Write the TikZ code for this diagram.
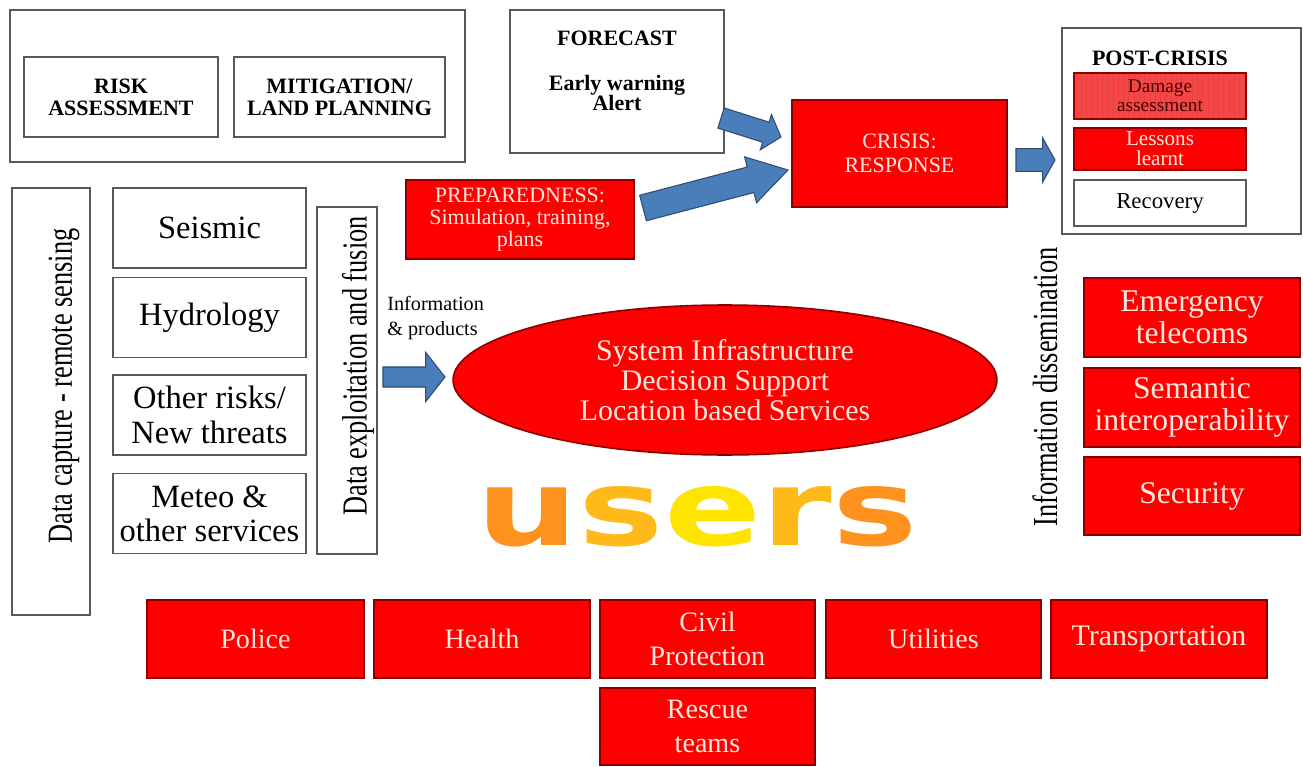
\documentclass[tikz,border=0pt]{standalone}
\usepackage{fontspec}
\setmainfont{Liberation Serif}
\newfontfamily\usersfont{DejaVu Sans}
\usetikzlibrary{calc,shapes.geometric,patterns}

\definecolor{boxred}{RGB}{255,0,0}
\definecolor{boxredline}{RGB}{140,0,0}
\definecolor{damagered}{RGB}{242,72,72}
\definecolor{redtext}{RGB}{255,232,222}
\definecolor{arrowblue}{RGB}{74,126,187}
\definecolor{arrowline}{RGB}{45,75,115}
\definecolor{usersA}{RGB}{255,145,30}
\definecolor{usersB}{RGB}{255,185,25}
\definecolor{usersC}{RGB}{255,228,0}

% block arrow between two points: from, to, half shaft, half head, head length
\newcommand{\blockarrow}[5]{%
  \draw[blockarr] let \p1=(#1), \p2=(#2),
      \n1={atan2(\y2-\y1,\x2-\x1)}, \n2={veclen(\x2-\x1,\y2-\y1)} in
    [shift={(\p1)}, rotate=\n1]
    (0pt,-#3) -- ({\n2-#5},-#3) -- ({\n2-#5},-#4) -- ({\n2+0pt},0pt)
    -- ({\n2-#5},#4) -- ({\n2-#5},#3) -- (0pt,#3) -- cycle;}

\begin{document}
\begin{tikzpicture}[x=0.02cm, y=-0.02cm,
  greybox/.style={draw=black!65, line width=0.9pt, fill=white, align=center, inner sep=1pt},
  redbox/.style={draw=boxredline, line width=0.9pt, fill=boxred, text=redtext, align=center, inner sep=1pt},
  capsfont/.style={font=\bfseries\fontsize{12.5}{12.5}\selectfont},
  bigfont/.style={font=\fontsize{18.5}{19.5}\selectfont},
  vtext/.style={rotate=90, inner sep=0pt, font=\fontsize{20}{20}\selectfont},
  blockarr/.style={fill=arrowblue, draw=arrowline, line width=0.6pt, line join=miter}]
\useasboundingbox (0,0) rectangle (1303,767);

% top: prevention
\node[greybox, minimum width=9.1cm, minimum height=3.04cm] (prevent) at (237.5,86) {};
\node[greybox, capsfont, minimum width=3.88cm, minimum height=1.6cm] (risk) at (121,97) {RISK\\ASSESSMENT};
\node[greybox, capsfont, minimum width=4.22cm, minimum height=1.6cm] (mitig) at (339.5,97) {MITIGATION/\\LAND PLANNING};

\node[greybox, minimum width=4.28cm, minimum height=2.86cm] (forecast) at (617,81.5) {};
\node[capsfont, align=center] (forecasttxt) at (617,71) {FORECAST\\[13pt]Early warning\\[-1pt]Alert};

\node[redbox, font=\fontsize{12.5}{14}\selectfont, minimum width=4.3cm, minimum height=2.14cm] (crisis) at (899.5,153.5) {CRISIS:\\RESPONSE};

\node[redbox, font=\fontsize{12.5}{12.5}\selectfont, minimum width=4.56cm, minimum height=1.58cm] (prep) at (520,219.5) {PREPAREDNESS:\\Simulation, training,\\plans};

% post-crisis
\node[greybox, minimum width=4.78cm, minimum height=4.12cm] (post) at (1181.5,131) {};
\node[capsfont] (posttxt) at (1160,58) {POST-CRISIS};
\node[redbox, preaction={fill=damagered}, fill=none, pattern=vertical lines, pattern color=damagered!80!red,
  text=boxredline!50!black, font=\fontsize{11}{11}\selectfont,
  minimum width=3.44cm, minimum height=0.92cm] (damage) at (1160,96) {Damage\\assessment};
\node[redbox, font=\fontsize{12}{11.5}\selectfont, minimum width=3.44cm, minimum height=0.84cm] (lessons) at (1160,149) {Lessons\\learnt};
\node[greybox, font=\fontsize{13}{13}\selectfont, minimum width=3.44cm, minimum height=0.92cm] (recovery) at (1160,203) {Recovery};

% data capture column
\node[greybox, minimum width=1.56cm, minimum height=8.54cm] (capture) at (51,401.5) {};
\node[vtext] (capturetxt) at (64,386) {\scalebox{0.75}[1]{Data capture - remote sensing}};
\node[greybox, bigfont, minimum width=3.86cm, minimum height=1.6cm] (seismic) at (209.5,228) {Seismic};
\node[greybox, bigfont, minimum width=3.86cm, minimum height=1.6cm] (hydro) at (209.5,317.5) {Hydrology};
\node[greybox, bigfont, minimum width=3.86cm, minimum height=1.6cm] (other) at (209.5,415) {Other risks/\\New threats};
\node[greybox, bigfont, minimum width=3.86cm, minimum height=1.6cm] (meteo) at (209.5,513.5) {Meteo \&\\other services};
\node[greybox, minimum width=1.2cm, minimum height=6.94cm] (fusion) at (347,380.5) {};
\node[vtext] (fusiontxt) at (358,366) {\scalebox{0.75}[1]{Data exploitation and fusion}};

\node[align=left, anchor=west, inner sep=0pt, font=\fontsize{11.5}{14.5}\selectfont] (infoprod) at (387,318) {Information\\\& products};

% core
\node[ellipse, draw=boxredline, line width=0.9pt, fill=boxred, text=redtext, align=center, inner sep=0pt,
  font=\fontsize{17}{17}\selectfont, minimum width=10.88cm, minimum height=3cm] (core) at (725,380)
  {System Infrastructure\\Decision Support\\Location based Services};

\node[inner sep=0pt, font=\usersfont\bfseries\fontsize{60}{60}\selectfont] (users) at (697,517)
  {\scalebox{1.36}[1]{\textcolor{usersA}{u}\textcolor{usersB}{s}\textcolor{usersC}{e}\textcolor{usersB}{r}\textcolor{usersA}{s}}};

% dissemination
\node[vtext] (disstxt) at (1045,387) {\scalebox{0.75}[1]{Information dissemination}};
\node[redbox, font=\fontsize{18}{18}\selectfont, minimum width=4.32cm, minimum height=1.58cm] (emerg) at (1192,317.5) {Emergency\\telecoms};
\node[redbox, font=\fontsize{18}{18}\selectfont, minimum width=4.32cm, minimum height=1.58cm] (semantic) at (1192,407.5) {Semantic\\interoperability};
\node[redbox, font=\fontsize{18}{18}\selectfont, minimum width=4.32cm, minimum height=1.56cm] (security) at (1192,496) {Security};

% users
\node[redbox, font=\fontsize{16}{19}\selectfont, minimum width=4.34cm, minimum height=1.56cm] (police) at (255.5,639) {Police};
\node[redbox, font=\fontsize{16}{19}\selectfont, minimum width=4.32cm, minimum height=1.56cm] (health) at (482,639) {Health};
\node[redbox, font=\fontsize{16}{19}\selectfont, minimum width=4.3cm, minimum height=1.56cm] (civil) at (707.5,639) {Civil\\Protection};
\node[redbox, font=\fontsize{16}{19}\selectfont, minimum width=4.3cm, minimum height=1.56cm] (utilities) at (933.5,639) {Utilities};
\node[redbox, font=\fontsize{17}{19}\selectfont, minimum width=4.32cm, minimum height=1.56cm] (transport) at (1159,639) {Transportation};
\node[redbox, font=\fontsize{16}{19}\selectfont, minimum width=4.3cm, minimum height=1.54cm] (rescue) at (707.5,726.5) {Rescue\\teams};

% arrows
\coordinate (fcA) at (721,118);
\coordinate (fcB) at (781,137);
\coordinate (prA) at (643,208);
\coordinate (prB) at (788,170);
\coordinate (crA) at (1016,160);
\coordinate (crB) at (1055,160);
\coordinate (inA) at (383,377);
\coordinate (inB) at (445,377);
\blockarrow{fcA}{fcB}{6pt}{10.5pt}{9pt}
\blockarrow{prA}{prB}{7.5pt}{13.5pt}{22pt}
\blockarrow{crA}{crB}{6.5pt}{12.5pt}{7pt}
\blockarrow{inA}{inB}{5.7pt}{14pt}{11pt}
\end{tikzpicture}
\end{document}
